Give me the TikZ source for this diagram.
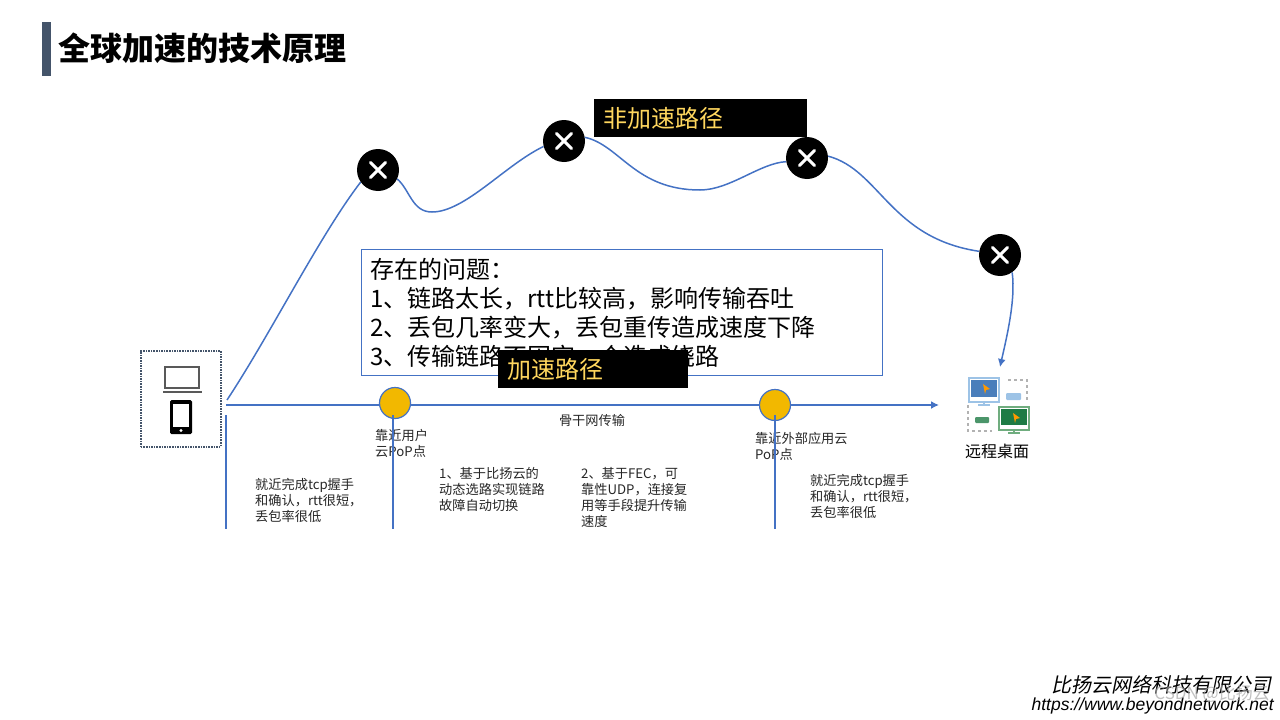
\documentclass[tikz,border=0pt]{standalone}
\usepackage{fontspec}
\setmainfont{Noto Sans CJK SC}
\newfontfamily\footcjk[FakeSlant=0.2]{Noto Sans CJK SC}
\newfontfamily\footlatin{Liberation Sans}
\usetikzlibrary{arrows.meta,positioning}

\definecolor{linkblue}{HTML}{4472C4}
\definecolor{barslate}{HTML}{44546A}
\definecolor{popgold}{HTML}{F2B800}
\definecolor{tagyellow}{HTML}{FFD75E}
\definecolor{textgrey}{HTML}{262626}
\definecolor{deskblue}{HTML}{4A7EBB}
\definecolor{deskpale}{HTML}{9DC3E6}
\definecolor{deskgreen}{HTML}{1E7B45}
\definecolor{desksage}{HTML}{70AD7F}

\begin{document}
\begin{tikzpicture}[
    x=1pt, y=-1pt,
    font=\fontsize{13.2}{16}\selectfont,
    link/.style={draw=linkblue, line width=1.5pt},
    arrow/.style={link, -{Latex[length=8pt,width=8pt]}},
    xmark/.style={circle, fill=black, inner sep=0pt, minimum size=42pt,
      path picture={\draw[white, line width=3pt, line cap=round]
        ([shift={(-7.5,-7.5)}]path picture bounding box.center) -- ([shift={(7.5,7.5)}]path picture bounding box.center)
        ([shift={(-7.5,7.5)}]path picture bounding box.center) -- ([shift={(7.5,-7.5)}]path picture bounding box.center);}},
    pop/.style={circle, draw=linkblue, line width=1.2pt, fill=popgold, inner sep=0pt, minimum size=31pt},
    tag/.style={fill=black, text=tagyellow, anchor=north west, inner sep=0pt, text depth=0pt,
      font=\fontsize{24}{28}\selectfont},
    note/.style={anchor=north west, align=left, inner sep=0pt, text=textgrey}
  ]
    \useasboundingbox (0,0) rectangle (1280,720);

    % title
    \node[fill=barslate, minimum width=9pt, minimum height=54pt, inner sep=0pt, anchor=north west] (bar) at (42,22) {};
    \node[anchor=west, inner sep=0pt, font=\fontsize{32}{36}\selectfont\bfseries] (title) at (58,48) {全球加速的技术原理};

    % problems
    \node[draw=linkblue, line width=0.8pt, minimum width=521pt, minimum height=126pt, inner sep=0pt, anchor=north west] (issuebox) at (361,249) {};
    \node[note, text=black, font=\fontsize{24}{29}\selectfont] (issues) at (370,258) {存在的问题：\\1、链路太长，rtt比较高，影响传输吞吐\\2、丢包几率变大，丢包重传造成速度下降\\3、传输链路不固定一个造成绕路};

    % endpoints
    \node[draw=barslate, densely dotted, line width=1.6pt, minimum width=80pt, minimum height=96pt, inner sep=0pt, anchor=north west] (device) at (140,350) {};
    \draw[draw=black!65, line width=1.6pt] (165,367) rectangle (199,388);
    \draw[draw=black!65, line width=2pt] (163,392) -- (202,392);
    \fill[black, rounded corners=1.5pt] (170,400) rectangle (192,434);
    \fill[white] (173,404) rectangle (189,427);
    \fill[white] (181,430.5) circle (1.6);

    \draw[draw=black!30, dashed, line width=1.6pt] (1008,380) -- (1027,380) -- (1027,402);
    \draw[draw=black!30, dashed, line width=1.6pt] (968,405) -- (968,431) -- (992,431);
    \draw[draw=deskpale, line width=1.2pt, fill=white] (969,378) rectangle (999,402);
    \fill[deskblue] (971,380) rectangle (997,397);
    \fill[orange!80!yellow] (983,384) -- (990,389) -- (986,390) -- (985,394) -- cycle;
    \draw[draw=deskpale, line width=1.2pt] (984,402) -- (984,405) (978,405) -- (990,405);
    \fill[deskpale, rounded corners=1pt] (1006,393) rectangle (1021,400);
    \draw[draw=desksage, line width=1.2pt, fill=white] (999,407) rectangle (1029,430);
    \fill[deskgreen] (1001,409) rectangle (1027,425);
    \fill[orange!80!yellow] (1013,413) -- (1020,418) -- (1016,419) -- (1015,423) -- cycle;
    \draw[draw=desksage, line width=1.2pt] (1014,430) -- (1014,433) (1008,433) -- (1020,433);
    \fill[deskgreen!80, rounded corners=1pt] (975,417) rectangle (989,423);
    \node[inner sep=0pt, font=\fontsize{16}{18}\selectfont] (desk) at (997,451) {远程桌面};

    % labels under the main line
    \node[note] (popa) at (375,429) {靠近用户\\云PoP点};
    \node[note] (popb) at (755,432) {靠近外部应用云\\PoP点};
    \node[inner sep=0pt, text=textgrey] (backbone) at (592,420) {骨干网传输};
    \node[note] (nearl) at (255,478) {就近完成tcp握手\\和确认，rtt很短，\\丢包率很低};
    \node[note] (routing) at (439,467) {1、基于比扬云的\\动态选路实现链路\\故障自动切换};
    \node[note] (fec) at (581,467) {2、基于FEC，可\\靠性UDP，连接复\\用等手段提升传输\\速度};
    \node[note] (nearr) at (810,474) {就近完成tcp握手\\和确认，rtt很短，\\丢包率很低};

    % main line
    \coordinate (start) at (226,405);
    \coordinate (stop) at (939,405);
    \draw[arrow] (start) -- (stop);
    \node[pop] (pa) at (395,403) {};
    \node[pop] (pb) at (775,405) {};
    \coordinate (dropa) at (226,415);
    \coordinate (dropaend) at (226,529);
    \coordinate (dropb) at (393,415);
    \coordinate (dropbend) at (393,529);
    \coordinate (dropc) at (775,415);
    \coordinate (dropcend) at (775,529);
    \foreach \a/\b in {dropa/dropaend,dropb/dropbend,dropc/dropcend} \draw[link] (\a) -- (\b);

    % failing path
    \node[xmark] (xa) at (378,170) {};
    \node[xmark] (xb) at (564,141) {};
    \node[xmark] (xc) at (807,158) {};
    \node[xmark] (xd) at (1000,255) {};
    \coordinate (rise) at (227,400);
    \coordinate (drop) at (1000,367);
    \draw[link] (rise) .. controls (270,335) and (320,235) .. (xa.-145);
    \draw[link] (xa.-25) .. controls (410,190) and (412,212) .. (432,212)
      .. controls (465,212) and (505,165) .. (xb.-165);
    \draw[link] (xb.10) .. controls (620,145) and (635,190) .. (700,190)
      .. controls (730,190) and (760,163) .. (xc.-170);
    \draw[link] (xc.5) .. controls (880,170) and (890,238) .. (xd.170);
    \draw[arrow] (xd.-55) .. controls (1016,300) and (1006,340) .. (drop);

    % tags
    \node[tag, minimum width=213pt, minimum height=38pt] (slow) at (594,99) {};
    \node[anchor=west, inner sep=0pt, text=tagyellow, font=\fontsize{24}{28}\selectfont] (slowtext) at (603,118) {非加速路径};
    \node[tag, minimum width=190pt, minimum height=38pt] (fast) at (498,350) {};
    \node[anchor=west, inner sep=0pt, text=tagyellow, font=\fontsize{24}{28}\selectfont] (fasttext) at (507,369) {加速路径};

    % footer
    \node[anchor=east, inner sep=0pt, font=\fontsize{20}{22}\footcjk] (firm) at (1272,685) {比扬云网络科技有限公司};
    \node[anchor=east, inner sep=0pt, font=\fontsize{17.5}{20}\footlatin\itshape] (site) at (1274,706) {https://www.beyondnetwork.net};
    \node[anchor=east, inner sep=0pt, text=black!35, opacity=0.7, font=\fontsize{17}{20}\selectfont] (mark) at (1270,694) {CSDN @比扬云};
\end{tikzpicture}
\end{document}
